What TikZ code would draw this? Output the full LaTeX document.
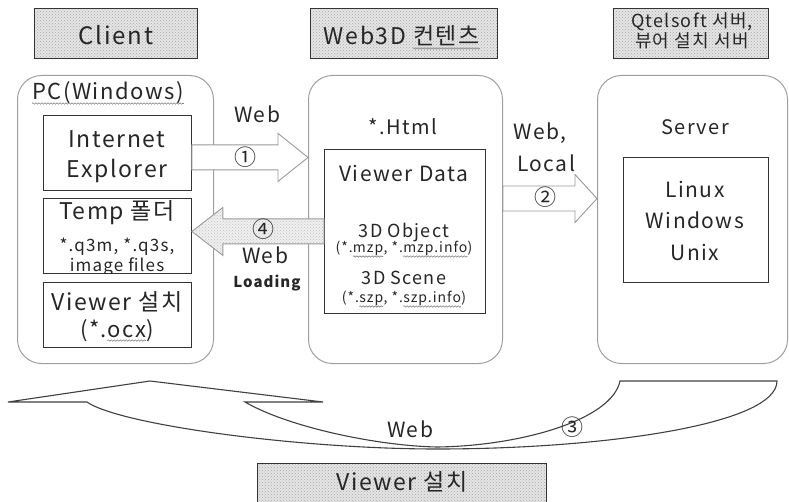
\documentclass[tikz,border=0pt]{standalone}
\usepackage{fontspec}
\setmainfont{Noto Sans CJK KR}[LetterSpace=7]
\usetikzlibrary{calc,patterns,decorations.pathmorphing}

% spell-check style wavy underline
\newcommand\squig[1]{\tikz[baseline=(w.base)]{%
  \node[inner sep=0pt, outer sep=0pt] (w) {#1};
  \draw[wavy] ([yshift=-3.5pt]w.base west) -- ([yshift=-3.5pt]w.base east);}}
% horizontal block arrow: tail point, tip point (only x is used), head length
\newcommand\fatarrow[4][fat]{%
  \draw[#1] let \p1=(#2), \p2=(#3), \n1={sign(\x2-\x1)*#4} in
    (\x1,\y1+12.5pt) -- (\x2-\n1,\y1+12.5pt) -- (\x2-\n1,\y1+24pt) -- (\x2,\y1)
    -- (\x2-\n1,\y1-24pt) -- (\x2-\n1,\y1-12.5pt) -- (\x1,\y1-12.5pt) -- cycle;}

\tikzset{
  panel/.style={draw=gray!75, line width=1pt, rounded corners=24pt,
    anchor=north west, inner sep=0pt},
  box/.style={draw=black!80, line width=.9pt, fill=white,
    anchor=north west, inner sep=0pt},
  titlebox/.style={draw=black!80, line width=.9pt, anchor=north west,
    inner sep=0pt, preaction={fill=gray!20},
    preaction={pattern=crosshatch dots, pattern color=gray!70}},
  txt/.style={anchor=base, inner sep=0pt, text=black!85,
    font=\fontsize{#1}{#1}\selectfont},
  txt/.default=22,
  num/.style={inner sep=0pt, text=black!85, font=\fontsize{22}{22}\selectfont},
  wavy/.style={draw=gray, line width=.6pt,
    decorate, decoration={snake, amplitude=.7pt, segment length=3pt}},
  fat/.style={draw=gray!80, line width=.9pt, fill=white},
  fatdots/.style={draw=gray!80, line width=.9pt, preaction={fill=gray!12},
    preaction={pattern=crosshatch dots, pattern color=gray!50}},
  bendarrow/.style={draw=black!75, line width=1.1pt, fill=white},
}

\begin{document}
\begin{tikzpicture}[x=1pt, y=-1pt]
\useasboundingbox (0,0) rectangle (789,502);

% three columns
\node[panel, minimum width=196pt, minimum height=288pt] (pc) at (17,75) {};
\node[panel, minimum width=194pt, minimum height=288pt] (web) at (308,75) {};
\node[panel, minimum width=190pt, minimum height=288pt] (srv) at (597,75) {};

% headings
\node[titlebox, minimum width=163pt, minimum height=50pt] (hclient) at (34,8) {};
\node[titlebox, minimum width=187pt, minimum height=50pt] (hweb) at (310,8) {};
\node[titlebox, minimum width=155pt, minimum height=50pt] (hsrv) at (613,8) {};
\node[titlebox, minimum width=289pt, minimum height=41pt] (hviewer) at (257,463) {};
\node[txt=24] (tclient) at (116,45) {Client};
\node[txt=23] (tweb) at (402,45) {Web3D \squig{컨텐츠}};
\node[txt=18] (tsrv1) at (692,28) {Qtelsoft 서버,};
\node[txt=18] (tsrv2) at (692,48) {뷰어 설치 서버};
\node[txt=23] (tviewer) at (402,490) {Viewer 설치};

% client
\node[txt] (tpc) at (108,100) {\squig{PC(Windows)}};
\node[box, minimum width=148pt, minimum height=75pt] (ie) at (43,115) {};
\node[box, minimum width=148pt, minimum height=75pt] (temp) at (43,198) {};
\node[box, minimum width=148pt, minimum height=65pt] (inst) at (43,282) {};
\node[txt=23] (tie1) at (117,148) {Internet};
\node[txt=23] (tie2) at (117,178) {Explorer};
\begin{scope}
  \clip (temp.north west) rectangle (temp.south east);
  \node[txt=23] (ttemp1) at (117,220) {Temp 폴더};
  \node[txt=17] (ttemp2) at (117,252) {*.q3m, *.q3s,};
  \node[txt=17] (ttemp3) at (117,272) {image files};
\end{scope}
\node[txt=23] (tinst1) at (117,311) {Viewer 설치};
\node[txt=22] (tinst2) at (117,337) {(*.\squig{ocx})};

% contents
\node[txt=20] (thtml) at (403,135) {*.Html};
\node[box, minimum width=161pt, minimum height=164pt] (data) at (324,149) {};
\node[txt=21] (tdata) at (404,182) {Viewer Data};
\node[txt=18] (tobj) at (404,238) {3D Object};
\node[txt=14] (tobjf) at (404,253) {(*.\squig{mzp}, *.\squig{mzp.info})};
\node[txt=18] (tscn) at (404,285) {3D Scene};
\node[txt=14] (tscnf) at (404,303) {(*.\squig{szp}, *.\squig{szp.info})};

% server
\node[txt=20] (tserver) at (695,135) {Server};
\node[box, minimum width=145pt, minimum height=125pt] (os) at (623,157) {};
\node[txt=21] (tlinux) at (695,198) {Linux};
\node[txt=21] (twin) at (695,229) {Windows};
\node[txt=21] (tunix) at (695,261) {Unix};

% block arrows
\fatarrow{[yshift=-4.5pt]ie.east}{web.west}{30pt}
\fatarrow{[yshift=21pt]web.east}{srv.west}{22pt}
\fatarrow[fatdots]{data.west}{temp.east}{31pt}

\node[txt=21] (lweb1) at (257,123) {Web};
\node[num] (n1) at (245,157) {①};
\node[txt=21] (lweb2) at (540,140) {Web,};
\node[txt=21] (llocal) at (546,172) {Local};
\node[num] (n2) at (545,197) {②};
\node[num] (n4) at (263,229) {④};
\node[txt=21] (lweb4) at (265,264) {Web};
\node[txt=15, font=\fontsize{15}{15}\selectfont\bfseries] (lload) at (267,288) {Loading};

% curved return arrow
\draw[bendarrow] (8,402) -- (150,381) -- (323,402) -- (245,402)
  .. controls (290,428) and (380,446) .. (437,447)
  .. controls (520,446) and (612,420) .. (620,381)
  -- (777,381)
  .. controls (777,425) and (600,449) .. (437,449)
  .. controls (300,449) and (120,425) .. (87,402) -- cycle;
\node[txt=21] (lweb3) at (410,437) {Web};
\node[num] (n3) at (572,427) {③};
\end{tikzpicture}
\end{document}
